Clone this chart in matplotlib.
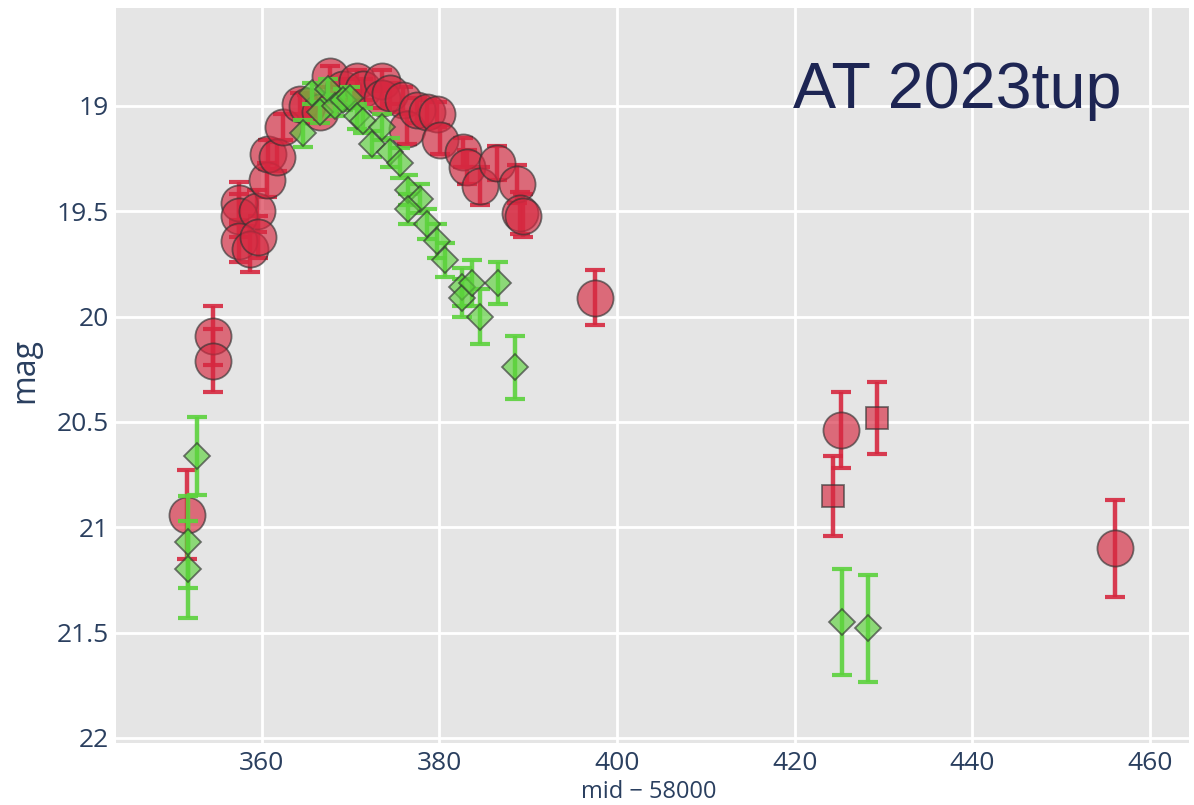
import numpy as np
import matplotlib.pyplot as plt

# r-band detections (circles)
r_mjd = [351.6, 354.5, 354.5, 357.5, 357.5, 359.5, 357.5, 358.7, 359.6,
         360.6, 360.7, 361.7, 362.4, 364.3, 365.1, 366.6, 367.7, 369.1,
         370.7, 371.4, 373.6, 373.6, 374.4, 375.9, 376.4, 377.5, 378.6,
         379.7, 380.1, 382.7, 383.1, 384.6, 386.5, 388.7, 389.1, 389.4,
         397.5, 425.2, 456.1]
r_mag = [20.94, 20.09, 20.21, 19.46, 19.52, 19.50, 19.64, 19.68, 19.62,
         19.35, 19.23, 19.24, 19.10, 18.99, 19.00, 19.03, 18.86, 18.92,
         18.88, 18.92, 18.88, 18.96, 18.94, 18.97, 19.11, 19.02, 19.03,
         19.04, 19.16, 19.22, 19.29, 19.38, 19.27, 19.37, 19.51, 19.52,
         19.91, 20.54, 21.10]
r_err = [0.21, 0.14, 0.15, 0.10, 0.10, 0.10, 0.10, 0.11, 0.10,
         0.08, 0.07, 0.07, 0.06, 0.05, 0.05, 0.05, 0.05, 0.05,
         0.05, 0.05, 0.05, 0.05, 0.05, 0.06, 0.07, 0.06, 0.06,
         0.06, 0.07, 0.07, 0.08, 0.09, 0.08, 0.09, 0.10, 0.10,
         0.13, 0.18, 0.23]

# r-band, other instrument (squares)
rs_mjd = [424.3, 429.3]
rs_mag = [20.85, 20.48]
rs_err = [0.19, 0.17]

# g-band detections (diamonds)
g_mjd = [351.7, 351.7, 352.7, 364.6, 365.7, 366.6, 367.5, 368.2, 369.1,
         369.9, 370.7, 371.4, 372.4, 373.6, 374.4, 375.6, 376.5, 377.8,
         376.5, 378.6, 379.7, 380.6, 382.5, 382.5, 383.7, 384.6, 386.6,
         388.5, 425.3, 428.3]
g_mag = [21.07, 21.20, 20.66, 19.13, 18.94, 19.03, 18.92, 19.00, 18.97,
         18.96, 19.05, 19.07, 19.18, 19.10, 19.22, 19.27, 19.40, 19.44,
         19.49, 19.56, 19.64, 19.73, 19.86, 19.91, 19.84, 20.00, 19.84,
         20.24, 21.45, 21.48]
g_err = [0.22, 0.23, 0.185, 0.065, 0.05, 0.05, 0.05, 0.05, 0.05,
         0.05, 0.06, 0.06, 0.06, 0.06, 0.07, 0.07, 0.07, 0.07,
         0.07, 0.07, 0.08, 0.08, 0.09, 0.09, 0.11, 0.13, 0.10,
         0.15, 0.25, 0.255]

red = '#d62840'
green = '#5cd23c'
tickcol = '#2a3f5f'

fig = plt.figure(figsize=(11.94, 8.05), dpi=100)
ax = fig.add_axes([116/1194, 62/805, 1073/1194, 735/805])
ax.set_facecolor('#e5e5e5')
for s in ax.spines.values():
    s.set_visible(False)
ax.grid(True, color='white', lw=2)
ax.set_axisbelow(True)

ebk = dict(fmt='none', elinewidth=3.2, capsize=7.5, capthick=3, alpha=0.9)

# red circles
ax.errorbar(r_mjd, r_mag, yerr=r_err, ecolor=red, **ebk)
ax.plot(r_mjd, r_mag, 'o', ms=26, mfc=red, mec='#333333', mew=1.3,
        alpha=0.65, ls='none')
# red squares
ax.errorbar(rs_mjd, rs_mag, yerr=rs_err, ecolor=red, **ebk)
ax.plot(rs_mjd, rs_mag, 's', ms=15.5, mfc=red, mec='#333333', mew=1.3,
        alpha=0.65, ls='none')
# green diamonds
ax.errorbar(g_mjd, g_mag, yerr=g_err, ecolor=green, **ebk)
ax.plot(g_mjd, g_mag, 'D', ms=13.5, mfc=green, mec='#333333', mew=1.3,
        alpha=0.65, ls='none')

ax.set_xlim(343.6, 464.4)
ax.set_ylim(22.024, 18.535)
ax.set_xticks([360, 380, 400, 420, 440, 460])
ax.set_yticks([19, 19.5, 20, 20.5, 21, 21.5, 22])
ax.set_yticklabels(['19', '19.5', '20', '20.5', '21', '21.5', '22'])
ax.tick_params(length=0, colors=tickcol, labelsize=19, pad=5)
ax.tick_params(axis='x', pad=6)
for lab in ax.get_xticklabels() + ax.get_yticklabels():
    lab.set_family('Open Sans')

fig.text(25/1194, (805-370)/805, 'mag', rotation=90, ha='center', va='center',
         color=tickcol, fontsize=23, family='Open Sans')
fig.text(649/1194, 1/805, 'mid − 58000', ha='center', va='bottom',
         color=tickcol, fontsize=17, family='Open Sans')
fig.text(793/1194, (805-108)/805, 'AT 2023tup', ha='left', va='baseline',
         color='#1d2553', fontsize=46.5, family='Liberation Sans')

plt.savefig('out.png', dpi=100)
print("Done!")
